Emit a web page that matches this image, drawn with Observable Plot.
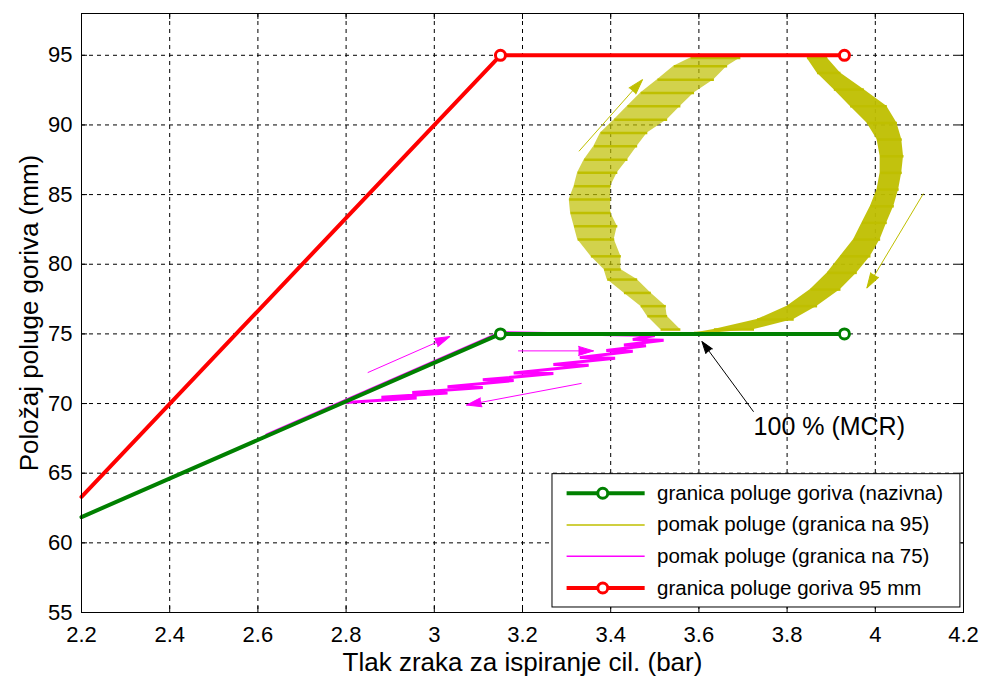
<!DOCTYPE html>
<html><head><meta charset="utf-8">
<script src="https://cdn.jsdelivr.net/npm/d3@7"></script>
<script src="https://cdn.jsdelivr.net/npm/@observablehq/plot@0.6"></script>
<style>body{margin:0;background:#fff}</style>
</head><body><div id="chart"></div>
<script>
// ---- data ----
const xTicks = [2.2, 2.4, 2.6, 2.8, 3, 3.2, 3.4, 3.6, 3.8, 4, 4.2];
const yTicks = [55, 60, 65, 70, 75, 80, 85, 90, 95];
const xLabel = "Tlak zraka za ispiranje cil. (bar)";
const yLabel = "Položaj poluge goriva (mm)";

// red: granica poluge goriva 95 mm
const redX = [2.2, 3.15, 3.93];
const redY = [63.3, 95, 95];
const redMarkX = [3.15, 3.93];
const redMarkY = [95, 95];

// green: granica poluge goriva (nazivna)
const greenX = [2.2, 3.15, 3.93];
const greenY = [61.85, 75, 75];
const greenMarkX = [3.15, 3.93];
const greenMarkY = [75, 75];

// magenta: pomak poluge (granica na 75)
const magX = [2.62, 2.8, 3.15, 3.5, 3.45, 3.52, 3.43, 3.48, 3.39, 3.45, 3.33, 3.41, 3.27, 3.35, 3.18, 3.27, 3.11, 3.18, 3.03, 3.11, 2.95, 3.03, 2.88, 2.96, 2.79];
const magY = [67.75, 70.25, 75.1, 74.88, 74.6, 74.55, 74.2, 74.15, 73.8, 73.75, 73.3, 73.25, 72.8, 72.75, 72.2, 72.15, 71.7, 71.65, 71.2, 71.15, 70.8, 70.75, 70.45, 70.4, 70.05];

// yellow: pomak poluge (granica na 95) – left (rising) band, bottom to top
const ylY  = [75.31, 76.27, 76.99, 77.94, 78.90, 79.62, 80.57, 81.77, 82.73, 83.68, 84.64, 85.60, 86.56, 87.51, 88.47, 89.43, 90.38, 91.34, 92.30, 93.25, 94.21, 94.81];
const ylX1 = [3.513, 3.483, 3.468, 3.430, 3.392, 3.385, 3.355, 3.325, 3.317, 3.309, 3.306, 3.317, 3.325, 3.340, 3.362, 3.377, 3.408, 3.438, 3.468, 3.506, 3.543, 3.581];
const ylX2 = [3.558, 3.528, 3.525, 3.491, 3.460, 3.423, 3.423, 3.408, 3.415, 3.400, 3.400, 3.400, 3.415, 3.438, 3.460, 3.483, 3.528, 3.558, 3.589, 3.634, 3.664, 3.694];
// right (falling) band, top to bottom
const yrY  = [94.81, 93.73, 92.54, 91.34, 90.14, 88.95, 87.75, 86.56, 85.36, 84.16, 82.97, 81.77, 80.57, 79.38, 78.18, 76.99, 76.03, 75.31, 75.07];
const yrX1 = [3.845, 3.868, 3.906, 3.943, 3.981, 4.004, 4.011, 4.011, 4.004, 3.989, 3.970, 3.951, 3.921, 3.891, 3.853, 3.800, 3.732, 3.634, 3.589];
const yrX2 = [3.891, 3.921, 3.974, 4.026, 4.049, 4.060, 4.064, 4.060, 4.053, 4.042, 4.026, 4.011, 3.989, 3.958, 3.921, 3.868, 3.815, 3.725, 3.634];

// arrows (direction annotations)
const arrowFromX = [2.849, 3.19, 3.334, 3.328, 4.109, 3.724];
const arrowFromY = [72.22, 73.78, 71.45, 88.11, 85.07, 69.41];
const arrowToX   = [3.035, 3.361, 3.073, 3.472, 3.981, 3.607];
const arrowToY   = [74.81, 73.78, 69.89, 93.25, 78.30, 74.45];
const arrowKind  = ["m", "m", "m", "y", "y", "k"];

const noteText = "100 % (MCR)";
const noteX = 3.724, noteY = 68.33;

const legendLabels = ["granica poluge goriva (nazivna)", "pomak poluge (granica na 95)", "pomak poluge (granica na 75)", "granica poluge goriva 95 mm"];

// ---- styling / layout ----
const GREEN = "#008000", RED = "#ff0000", MAG = "#ff00ff", YEL = "#bfbf00";
const kindColor = {m: MAG, y: YEL, k: "#000000"};
const legendColors = [GREEN, YEL, MAG, RED];
const legendWidths = [4, 1.5, 1.5, 4];
const legendMarker = [true, false, false, true];

const W = 981, H = 682, mL = 81, mR = 18, mT = 13, mB = 70;
const xDomain = [2.2, 4.2], yDomain = [55, 98];
const sx = d3.scaleLinear(xDomain, [mL, W - mR]);
const sy = d3.scaleLinear(yDomain, [H - mB, mT]);

// legend box layout in data units
const LB = {x1: 3.268, x2: 4.193, y1: 55.36, y2: 64.93, lx1: 3.30, lx2: 3.477, mx: 3.382, tx: 3.505, rows: [63.56, 61.29, 59.03, 56.76]};

// ---- build tables ----
const red = redX.map((x, i) => ({x, y: redY[i]}));
const redM = redMarkX.map((x, i) => ({x, y: redMarkY[i]}));
const green = greenX.map((x, i) => ({x, y: greenY[i]}));
const greenM = greenMarkX.map((x, i) => ({x, y: greenMarkY[i]}));
const mag = magX.map((x, i) => ({x, y: magY[i]}));
const yLeft = ylY.map((y, i) => ({y, x1: ylX1[i], x2: ylX2[i]}));
const yRight = yrY.map((y, i) => ({y, x1: yrX1[i], x2: yrX2[i]}));
const yRows = yLeft.concat(yRight);

const arrows = arrowFromX.map((x1, i) => ({
  x1, y1: arrowFromY[i], x2: arrowToX[i], y2: arrowToY[i], color: kindColor[arrowKind[i]], kind: arrowKind[i]
}));
const ang = a => Math.atan2(sx(a.x2) - sx(a.x1), -(sy(a.y2) - sy(a.y1))) * 180 / Math.PI;

const legend = legendLabels.map((label, i) => ({
  label, color: legendColors[i], w: legendWidths[i], marker: legendMarker[i], y: LB.rows[i]
}));

const font = "'Liberation Sans', Arial, Helvetica, sans-serif";

const chart = Plot.plot({
  width: W, height: H,
  marginLeft: mL, marginRight: mR, marginTop: mT, marginBottom: mB,
  style: {fontFamily: font, fontSize: "21px", color: "#000", background: "#fff", overflow: "visible"},
  color: {type: "identity"},
  x: {domain: xDomain, label: null, axis: null},
  y: {domain: yDomain, label: null, axis: null},
  marks: [
    // grid
    Plot.ruleX(xTicks.slice(1, -1), {x: d => d, stroke: "#000", strokeWidth: 1, strokeDasharray: "4,4"}),
    Plot.ruleY(yTicks.slice(1), {y: d => d, stroke: "#000", strokeWidth: 1, strokeDasharray: "4,4"}),
    // inward ticks
    Plot.ruleX(xTicks, {x: d => d, y1: yDomain[0], y2: yDomain[0], insetTop: -6, stroke: "#000"}),
    Plot.ruleX(xTicks, {x: d => d, y1: yDomain[1], y2: yDomain[1], insetBottom: -6, stroke: "#000"}),
    Plot.ruleY(yTicks, {y: d => d, x1: xDomain[0], x2: xDomain[0], insetRight: -6, stroke: "#000"}),
    Plot.ruleY(yTicks, {y: d => d, x1: xDomain[1], x2: xDomain[1], insetLeft: -6, stroke: "#000"}),
    // tick labels
    Plot.text(xTicks, {x: d => d, y: yDomain[0], dy: 14, text: d => String(d), lineAnchor: "top", fontSize: 22, fill: "#000"}),
    Plot.text(yTicks, {x: xDomain[0], y: d => d, dx: -9, text: d => String(d), textAnchor: "end", lineAnchor: "middle", fontSize: 22, fill: "#000"}),
    // yellow trajectory
    Plot.areaX(yLeft, {y: "y", x1: "x1", x2: "x2", fill: YEL, fillOpacity: 0.7}),
    Plot.areaX(yRight, {y: "y", x1: "x1", x2: "x2", fill: YEL, fillOpacity: 0.95}),
    Plot.link(yRows, {x1: "x1", x2: "x2", y1: "y", y2: "y", stroke: YEL, strokeWidth: 2.5}),
    Plot.link([0], {x1: ylX2[ylX2.length - 1], x2: yrX1[0], y1: 95, y2: 95, stroke: YEL, strokeWidth: 1.5}),
    // magenta trajectory
    Plot.line(mag, {x: "x", y: "y", stroke: MAG, strokeWidth: 3, strokeLinejoin: "miter"}),
    // green and red limits
    Plot.line(green, {x: "x", y: "y", stroke: GREEN, strokeWidth: 4}),
    Plot.dot(greenM, {x: "x", y: "y", r: 5, stroke: GREEN, strokeWidth: 3, fill: "#fff"}),
    Plot.line(red, {x: "x", y: "y", stroke: RED, strokeWidth: 4}),
    Plot.dot(redM, {x: "x", y: "y", r: 5, stroke: RED, strokeWidth: 3, fill: "#fff"}),
    // arrows
    Plot.link(arrows, {x1: "x1", y1: "y1", x2: "x2", y2: "y2", stroke: "color", strokeWidth: 1}),
    Plot.vector(arrows.filter(a => a.kind !== "k"), {x: "x2", y: "y2", rotate: ang, length: 15, r: 4.5, shape: "spike", anchor: "end", fill: "color", stroke: "color", strokeWidth: 1}),
    Plot.vector(arrows.filter(a => a.kind === "k"), {x: "x2", y: "y2", rotate: ang, length: 12, r: 4, shape: "spike", anchor: "end", fill: "color", stroke: "color", strokeWidth: 1}),
    Plot.text([noteText], {x: noteX, y: noteY, text: d => d, textAnchor: "start", fontSize: 25, fill: "#000"}),
    // legend
    Plot.rect([0], {x1: LB.x1, x2: LB.x2, y1: LB.y1, y2: LB.y2, fill: "#fff", stroke: "#000", strokeWidth: 1}),
    Plot.link(legend, {x1: LB.lx1, x2: LB.lx2, y1: "y", y2: "y", stroke: "color", strokeWidth: "w"}),
    Plot.dot(legend.filter(d => d.marker), {x: LB.mx, y: "y", r: 5, stroke: "color", strokeWidth: 3, fill: "#fff"}),
    Plot.text(legend, {x: LB.tx, y: "y", text: "label", textAnchor: "start", fontSize: 20.5, fill: "#000"}),
    // frame
    Plot.frame({stroke: "#000", strokeWidth: 1}),
    // axis titles
    Plot.text([xLabel], {frameAnchor: "bottom", dy: 50, text: d => d, fontSize: 26, lineAnchor: "middle", fill: "#000"}),
    Plot.text([yLabel], {frameAnchor: "left", dx: -52, rotate: -90, textAnchor: "middle", text: d => d, fontSize: 26, lineAnchor: "middle", fill: "#000"})
  ]
});
document.getElementById("chart").appendChild(chart);
</script>
</body></html>
